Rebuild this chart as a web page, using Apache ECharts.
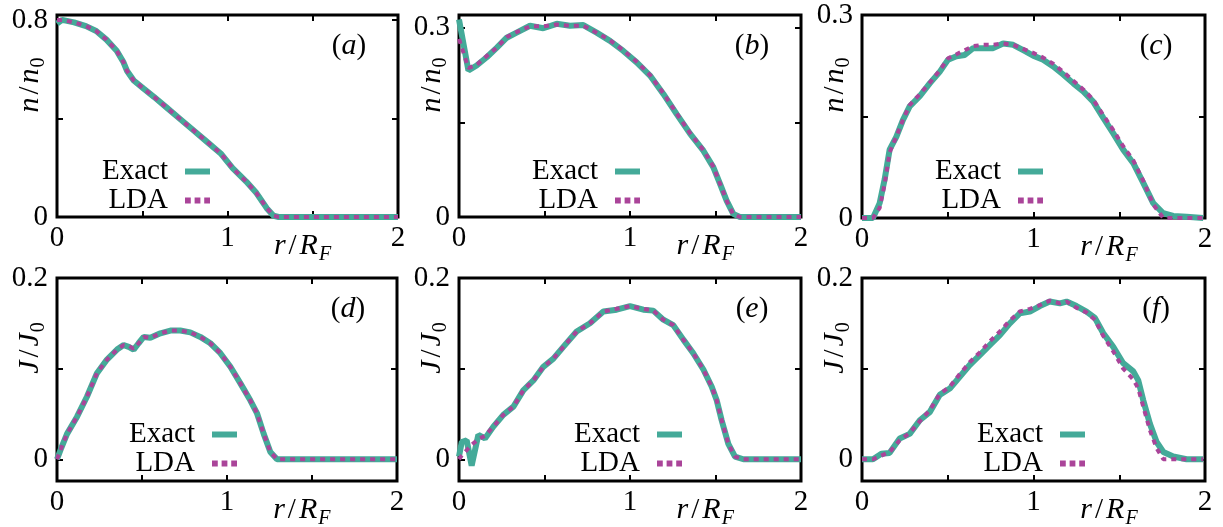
<!DOCTYPE html>
<html><head><meta charset="utf-8">
<script src="https://cdn.jsdelivr.net/npm/echarts@6/dist/echarts.min.js"></script>
<style>html,body{margin:0;padding:0;background:#fff}#c{width:1223px;height:527px}</style>
</head><body><div id="c"></div>
<script>
// ---------- data ----------
const aX = [0, 0.03, 0.1, 0.17, 0.23, 0.29, 0.35, 0.39, 0.41, 0.45, 0.51, 0.57, 0.64, 0.72, 0.8, 0.88, 0.96, 1.03, 1.11, 1.17, 1.23, 1.27, 1.3, 1.5, 1.75, 2.0];
const aExact = [0.785, 0.80, 0.79, 0.775, 0.755, 0.72, 0.675, 0.628, 0.594, 0.554, 0.52, 0.487, 0.446, 0.399, 0.352, 0.305, 0.258, 0.198, 0.144, 0.097, 0.036, 0.005, 0, 0, 0, 0];
const aLDA   = [0.80, 0.80, 0.79, 0.775, 0.755, 0.72, 0.675, 0.628, 0.594, 0.554, 0.52, 0.487, 0.446, 0.399, 0.352, 0.305, 0.258, 0.198, 0.144, 0.097, 0.036, 0.005, 0, 0, 0, 0];

const bX = [0, 0.055, 0.103, 0.162, 0.22, 0.279, 0.337, 0.415, 0.493, 0.571, 0.649, 0.727, 0.805, 0.883, 0.961, 1.039, 1.117, 1.195, 1.273, 1.351, 1.429, 1.487, 1.526, 1.565, 1.604, 1.643, 1.8, 2.0];
const bExact = [0.313, 0.232, 0.24, 0.253, 0.268, 0.284, 0.292, 0.303, 0.299, 0.306, 0.303, 0.304, 0.292, 0.279, 0.263, 0.245, 0.224, 0.195, 0.163, 0.132, 0.105, 0.079, 0.053, 0.026, 0.005, 0, 0, 0];
const bLDA   = [0.282, 0.236, 0.241, 0.255, 0.268, 0.285, 0.293, 0.302, 0.302, 0.305, 0.303, 0.303, 0.292, 0.28, 0.264, 0.246, 0.225, 0.196, 0.164, 0.133, 0.106, 0.08, 0.053, 0.026, 0.004, 0, 0, 0];

const cX = [0, 0.064, 0.103, 0.132, 0.161, 0.2, 0.239, 0.278, 0.337, 0.395, 0.453, 0.502, 0.551, 0.599, 0.648, 0.706, 0.765, 0.823, 0.881, 0.94, 0.998, 1.056, 1.115, 1.173, 1.232, 1.29, 1.348, 1.407, 1.465, 1.523, 1.582, 1.64, 1.698, 1.757, 1.815, 1.893, 1.99];
const cExact = [0, 0, 0.022, 0.057, 0.101, 0.12, 0.145, 0.165, 0.18, 0.199, 0.216, 0.234, 0.239, 0.241, 0.251, 0.251, 0.251, 0.258, 0.256, 0.248, 0.24, 0.234, 0.224, 0.212, 0.199, 0.187, 0.172, 0.148, 0.125, 0.101, 0.081, 0.052, 0.022, 0.007, 0.003, 0.002, 0];
const cLDA   = [0, 0, 0.015, 0.05, 0.097, 0.12, 0.145, 0.167, 0.183, 0.2, 0.218, 0.236, 0.242, 0.248, 0.254, 0.256, 0.256, 0.258, 0.256, 0.25, 0.244, 0.237, 0.228, 0.216, 0.203, 0.19, 0.175, 0.152, 0.13, 0.106, 0.085, 0.055, 0.02, 0, 0, 0, 0];

const dX = [0, 0.02, 0.059, 0.118, 0.176, 0.235, 0.294, 0.353, 0.392, 0.422, 0.451, 0.48, 0.51, 0.549, 0.608, 0.667, 0.725, 0.784, 0.843, 0.902, 0.961, 1.02, 1.078, 1.137, 1.176, 1.216, 1.255, 1.294, 1.5, 2.0];
const dExact = [0, 0.01, 0.028, 0.047, 0.069, 0.095, 0.11, 0.121, 0.126, 0.124, 0.121, 0.128, 0.135, 0.134, 0.139, 0.142, 0.142, 0.14, 0.135, 0.128, 0.117, 0.102, 0.084, 0.065, 0.051, 0.028, 0.008, 0, 0, 0];
const dLDA   = [0, 0.01, 0.028, 0.047, 0.069, 0.095, 0.11, 0.121, 0.126, 0.125, 0.122, 0.128, 0.135, 0.134, 0.139, 0.142, 0.142, 0.14, 0.135, 0.128, 0.117, 0.102, 0.084, 0.065, 0.051, 0.028, 0.008, 0, 0, 0];

const eX = [0, 0.016, 0.045, 0.074, 0.113, 0.152, 0.201, 0.259, 0.318, 0.376, 0.435, 0.493, 0.552, 0.61, 0.688, 0.766, 0.844, 0.922, 1.0, 1.078, 1.136, 1.195, 1.253, 1.312, 1.37, 1.429, 1.478, 1.507, 1.536, 1.575, 1.614, 1.663, 1.8, 2.0];
const eExact = [0.003, 0.019, 0.021, -0.007, 0.027, 0.023, 0.036, 0.049, 0.058, 0.076, 0.087, 0.102, 0.111, 0.124, 0.141, 0.15, 0.163, 0.165, 0.169, 0.165, 0.164, 0.154, 0.148, 0.132, 0.117, 0.099, 0.08, 0.065, 0.043, 0.017, 0.003, 0, 0, 0];
const eLDA   = [0, 0.004, 0.01, 0.016, 0.022, 0.026, 0.036, 0.049, 0.058, 0.076, 0.087, 0.102, 0.111, 0.124, 0.141, 0.15, 0.163, 0.166, 0.169, 0.166, 0.164, 0.154, 0.148, 0.132, 0.117, 0.099, 0.08, 0.065, 0.043, 0.017, 0.003, 0, 0, 0];

const fX = [0, 0.064, 0.113, 0.161, 0.22, 0.278, 0.337, 0.395, 0.453, 0.512, 0.57, 0.628, 0.687, 0.745, 0.804, 0.862, 0.92, 0.979, 1.037, 1.095, 1.154, 1.193, 1.251, 1.309, 1.358, 1.407, 1.465, 1.523, 1.582, 1.611, 1.64, 1.679, 1.718, 1.757, 1.815, 1.893, 1.99];
const fExact = [0, 0, 0.006, 0.007, 0.023, 0.028, 0.043, 0.052, 0.071, 0.078, 0.091, 0.104, 0.115, 0.126, 0.137, 0.15, 0.161, 0.163, 0.169, 0.174, 0.172, 0.174, 0.169, 0.163, 0.156, 0.139, 0.124, 0.106, 0.097, 0.087, 0.065, 0.039, 0.019, 0.008, 0.003, 0, 0];
const fLDA   = [0, 0, 0.004, 0.008, 0.021, 0.029, 0.042, 0.054, 0.072, 0.08, 0.094, 0.107, 0.118, 0.13, 0.141, 0.153, 0.163, 0.166, 0.17, 0.175, 0.172, 0.174, 0.167, 0.162, 0.154, 0.136, 0.119, 0.1, 0.088, 0.078, 0.058, 0.032, 0.012, 0, 0, 0, 0];

const xTicks = [0, 0.5, 1, 1.5, 2];
const xTickLabels = [0, 1, 2];
const nTicksA = [0, 0.4, 0.8], nLabelsA = [0, 0.8];
const nTicksBC = [0, 0.15, 0.3], nLabelsBC = [0, 0.3];
const jTicks = [0, 0.1, 0.2], jLabels = [0, 0.2];
const seriesNames = ['Exact', 'LDA'];
const panelTags = ['a', 'b', 'c', 'd', 'e', 'f'];

// ---------- layout / style ----------
const FONT = '"Liberation Serif", "Times New Roman", serif';
const FS = 29;
const TEAL = '#44AA99', PURPLE = '#AA4499';
const panels = [
  {x: aX, ex: aExact, lda: aLDA, ymin: 0, ymax: 0.82, ticks: nTicksA, labels: nLabelsA, q: 'n', left: 57, top: 15, w: 341, h: 202, legX: 210},
  {x: bX, ex: bExact, lda: bLDA, ymin: 0, ymax: 0.32, ticks: nTicksBC, labels: nLabelsBC, q: 'n', left: 459, top: 15, w: 342, h: 202, legX: 640},
  {x: cX, ex: cExact, lda: cLDA, ymin: 0, ymax: 0.3, ticks: nTicksBC, labels: nLabelsBC, q: 'n', left: 862, top: 15, w: 343, h: 203, legX: 1043},
  {x: dX, ex: dExact, lda: dLDA, ymin: -0.024, ymax: 0.2, ticks: jTicks, labels: jLabels, q: 'J', left: 57, top: 278, w: 340, h: 203, legX: 237},
  {x: eX, ex: eExact, lda: eLDA, ymin: -0.024, ymax: 0.2, ticks: jTicks, labels: jLabels, q: 'J', left: 459, top: 278, w: 342, h: 203, legX: 682},
  {x: fX, ex: fExact, lda: fLDA, ymin: -0.024, ymax: 0.2, ticks: jTicks, labels: jLabels, q: 'J', left: 862, top: 278, w: 343, h: 203, legX: 1085}
];

const tickStyle = {inside: true, length: 6, lineStyle: {color: '#000', width: 2}};
const labelStyle = {color: '#000', fontSize: FS, fontFamily: FONT};
const richBase = {
  i: {fontFamily: FONT, fontSize: 30, fontStyle: 'italic', color: '#000'},
  n: {fontFamily: FONT, fontSize: 29, color: '#000'},
  sl: {fontFamily: FONT, fontSize: 29, color: '#000', padding: [0, 3, 0, 3]},
  s: {fontFamily: FONT, fontSize: 20, color: '#000', padding: [18, 0, 0, 1]},
  si: {fontFamily: FONT, fontSize: 20, fontStyle: 'italic', color: '#000', padding: [18, 0, 0, 1]}
};
const DOTS = 'path://M0,0h6v6h-6zM10,0h6v6h-6zM20,0h6v6h-6z';

const grid = [], xAxis = [], yAxis = [], series = [], legend = [], graphic = [];
panels.forEach((p, i) => {
  grid.push({left: p.left, top: p.top, width: p.w, height: p.h, show: true, borderColor: '#000', borderWidth: 3, backgroundColor: 'transparent'});
  ['bottom', 'top'].forEach(pos => xAxis.push({
    type: 'value', gridIndex: i, position: pos, min: 0, max: 2,
    axisLine: {show: false, onZero: false}, splitLine: {show: false},
    axisTick: Object.assign({customValues: xTicks}, tickStyle),
    axisLabel: Object.assign({show: pos === 'bottom', customValues: xTickLabels, margin: 7}, labelStyle)
  }));
  ['left', 'right'].forEach(pos => yAxis.push({
    type: 'value', gridIndex: i, position: pos, min: p.ymin, max: p.ymax,
    axisLine: {show: false, onZero: false}, splitLine: {show: false},
    axisTick: Object.assign({customValues: p.ticks}, tickStyle),
    axisLabel: Object.assign({show: pos === 'left', customValues: p.labels, margin: 9}, labelStyle)
  }));
  series.push({
    name: seriesNames[0], type: 'line', xAxisIndex: 2 * i, yAxisIndex: 2 * i,
    data: p.x.map((v, k) => [v, p.ex[k]]), symbol: 'none', clip: false, z: 3,
    lineStyle: {color: TEAL, width: 6}, itemStyle: {color: TEAL}
  });
  series.push({
    name: seriesNames[1], type: 'line', xAxisIndex: 2 * i, yAxisIndex: 2 * i,
    data: p.x.map((v, k) => [v, p.lda[k]]), symbol: 'none', clip: false, z: 4,
    lineStyle: {color: PURPLE, width: 4, type: [5, 5]}, itemStyle: {color: PURPLE}
  });
  const rowTop = i < 3 ? 157 : 420;
  legend.push({
    orient: 'vertical', align: 'right', right: 1223 - p.legX, top: rowTop, padding: 0, itemGap: 0,
    itemWidth: 25, itemHeight: 6, selectedMode: false,
    textStyle: {color: '#000', fontSize: FS, fontFamily: FONT, padding: [0, 12, 0, 0]},
    data: [
      {name: seriesNames[0], icon: 'rect', itemStyle: {color: TEAL}},
      {name: seriesNames[1], icon: DOTS, itemStyle: {color: PURPLE}}
    ]
  });
  // axis names and panel tag
  graphic.push({type: 'text', x: p.left + 0.72 * p.w, y: p.top + p.h + 29, z: 10,
    style: {text: '{i|r}{sl|/}{i|R}{si|F}', rich: richBase, align: 'center', verticalAlign: 'middle'}});
  graphic.push({type: 'text', x: p.left - 27, y: p.top + 70, rotation: Math.PI / 2, z: 10,
    style: {text: '{i|' + p.q + '}{sl|/}{i|' + p.q + '}{s|0}', rich: richBase, align: 'center', verticalAlign: 'middle'}});
  graphic.push({type: 'text', x: p.left + p.w - 49, y: p.top + 31, z: 10,
    style: {text: '{n|(}{i|' + panelTags[i] + '}{n|)}', rich: richBase, align: 'center', verticalAlign: 'middle'}});
});

const chart = echarts.init(document.getElementById('c'), null, {renderer: 'canvas'});
chart.setOption({animation: false, backgroundColor: '#fff', grid, xAxis, yAxis, series, legend, graphic});
</script></body></html>
